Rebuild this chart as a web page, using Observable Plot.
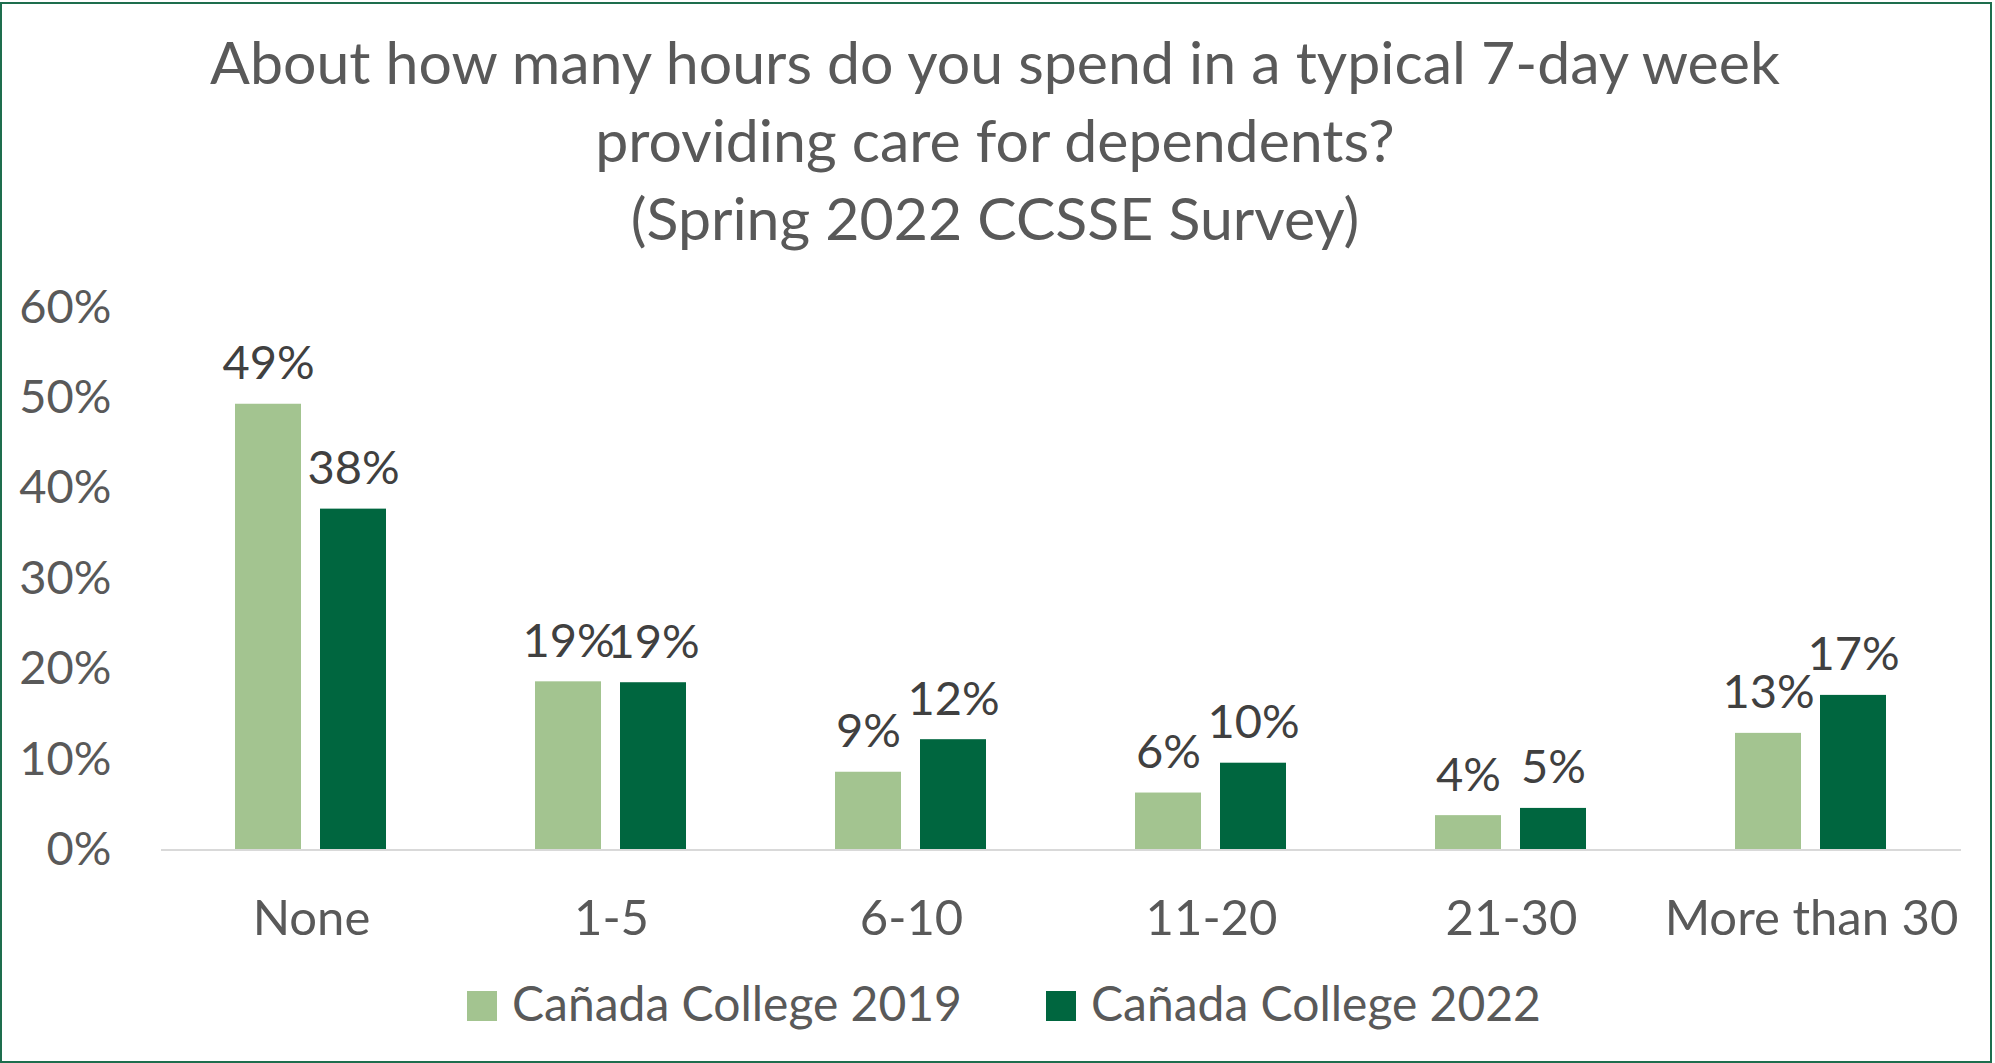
<!DOCTYPE html>
<html>
<head>
<meta charset="utf-8">
<script src="https://cdn.jsdelivr.net/npm/d3@7"></script>
<script src="https://cdn.jsdelivr.net/npm/@observablehq/plot@0.6"></script>
<style>
  html, body { margin: 0; padding: 0; background: #ffffff; }
  #page { position: relative; width: 1995px; height: 1063px; overflow: hidden; background: #ffffff; font-family: Lato, "Open Sans", sans-serif; }
  #border { position: absolute; left: 0; top: 2px; width: 1992px; height: 1061px; box-sizing: border-box; border: 2px solid #1e6e4e; pointer-events: none; }
  #chart { position: absolute; left: 0; top: 0; }
  #title { position: absolute; left: 0; top: 22.5px; width: 1990px; text-align: center; font-size: 59px; line-height: 78px; color: #595959; }
  .legend-item { position: absolute; top: 973.1px; display: flex; align-items: baseline; font-size: 48px; line-height: 60px; color: #595959; white-space: nowrap; }
  .swatch { display: inline-block; width: 30px; height: 30px; margin-right: 15px; }
</style>
</head>
<body>
<div id="page">
  <div id="chart"></div>
  <div id="title"></div>
  <div id="legend"></div>
  <div id="border"></div>
</div>
<script>
// ---- data ----
const titleLines = [
  "About how many hours do you spend in a typical 7-day week",
  "providing care for dependents?",
  "(Spring 2022 CCSSE Survey)"
];
const categories = ["None", "1-5", "6-10", "11-20", "21-30", "More than 30"];
const series = ["Cañada College 2019", "Cañada College 2022"];
const values2019 = [0.493, 0.186, 0.086, 0.063, 0.038, 0.129];
const values2022 = [0.377, 0.185, 0.122, 0.096, 0.046, 0.171];
const yTicks = [0, 0.1, 0.2, 0.3, 0.4, 0.5, 0.6];
const seriesColors = ["#a3c490", "#00663f"];

// ---- table built from the arrays ----
const data = [];
categories.forEach((c, i) => {
  data.push({category: c, series: series[0], value: values2019[i]});
  data.push({category: c, series: series[1], value: values2022[i]});
});
const pct = v => Math.round(v * 100) + "%";

// ---- title ----
document.getElementById("title").innerHTML = titleLines.map(t => `<div>${t}</div>`).join("");

// ---- chart ----
const chart = Plot.plot({
  width: 1995,
  height: 960,
  marginLeft: 160,
  marginRight: 33,
  marginTop: 307,
  marginBottom: 110.5,
  style: {background: "transparent", fontFamily: "Lato, 'Open Sans', sans-serif", color: "#595959"},
  fx: {domain: categories, padding: 0, label: null},
  x: {domain: series, paddingInner: 0.219, paddingOuter: 0.86, axis: null},
  y: {domain: [0, 0.6], axis: null},
  color: {domain: series, range: seriesColors},
  marks: [
    Plot.axisY({ticks: yTicks, tickFormat: d3.format(".0%"), tickSize: 0, tickPadding: 50, fontSize: 47, fill: "#595959", label: null}),
    Plot.axisFx({anchor: "bottom", tickSize: 0, tickPadding: 50.7, fontSize: 49, fill: "#595959", label: null}),
    Plot.barY(data, {fx: "category", x: "series", y: "value", fill: "series"}),
    Plot.ruleY([0], {stroke: "#d9d9d9", strokeWidth: 2}),
    Plot.text(data, {fx: "category", x: "series", y: "value", text: d => pct(d.value), dy: -25, lineAnchor: "bottom", fill: "#404040", fontSize: 47})
  ]
});
document.getElementById("chart").appendChild(chart);

// ---- legend ----
const legendLefts = [467, 1046];
document.getElementById("legend").innerHTML = series.map((s, i) =>
  `<div class="legend-item" style="left:${legendLefts[i]}px"><span class="swatch" style="background:${seriesColors[i]}"></span><span>${s}</span></div>`
).join("");
</script>
</body>
</html>
